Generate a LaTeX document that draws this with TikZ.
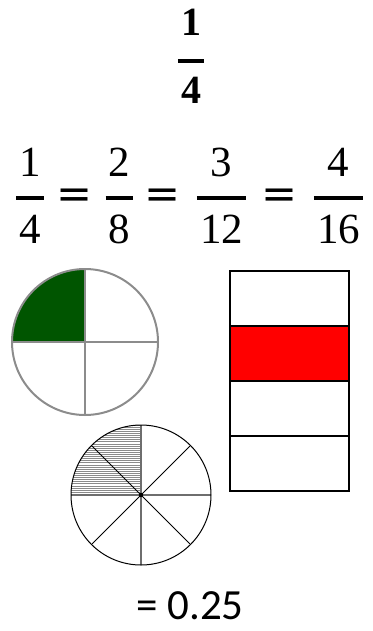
\documentclass[tikz,border=0pt]{standalone}
\usepackage{fontspec}
\newfontfamily\fracfont{Liberation Serif}
\newfontfamily\eqfont{DejaVu Sans}
\newfontfamily\decimalfont{Carlito}
\definecolor{pieline}{HTML}{8C8C8C}
\definecolor{piegreen}{HTML}{005500}
\definecolor{hatchgray}{HTML}{8A8A8A}
\definecolor{spokegray}{HTML}{6E6E6E}
\definecolor{barred}{HTML}{FF0000}
\tikzset{
  rowdigits/.style={inner sep=0pt, anchor=base, font=\fontsize{43}{46}\fracfont},
  titledigits/.style={inner sep=0pt, anchor=base, font=\fontsize{40}{44}\fracfont\bfseries},
  eqsign/.style={inner sep=0pt, font=\fontsize{43}{47}\eqfont},
  fracbar/.style={line width=4pt, shorten <=-3pt, shorten >=-3pt},
  decimaltext/.style={inner sep=0pt, anchor=base, font=\fontsize{43}{47}\decimalfont}
}

\begin{document}
\begin{tikzpicture}[x=1pt, y=-1pt]

  \useasboundingbox (0,0) rectangle (372,631);

  %% title fraction
  \coordinate (title-bar) at (191,61);
  \node[titledigits] (title-num) at (191,36) {1};
  \node[titledigits] (title-den) at (191,104) {4};
  \draw[fracbar] (title-den.west |- title-bar) -- (title-den.east |- title-bar);

  %% row of equal fractions
  \foreach \name/\x/\num/\den in {fracA/30/1/4, fracB/119.5/2/8, fracC/221.5/3/12, fracD/338.5/4/16} {
    \coordinate (\name-bar) at (\x,197.5);
    \node[rowdigits] (\name-num) at (\x,176) {\num};
    \node[rowdigits] (\name-den) at (\x,243) {\den};
    \draw[fracbar] (\name-den.west |- \name-bar) -- (\name-den.east |- \name-bar);
  }
  \foreach \name/\x in {eqA/75, eqB/163, eqC/280}
    \node[eqsign] (\name) at (\x,198.5) {=};

  %% ---- circle in quarters, top left one green ----
  \coordinate (quarterc) at (85,342);
  \fill[piegreen] (quarterc) -- ++(-73,0) arc[start angle=180, end angle=270, radius=73] -- cycle;
  \draw[pieline, line width=2pt] (quarterc) circle[radius=73];
  \draw[pieline, line width=2.5pt] (quarterc) ++(-73,0) -- ++(146,0);
  \draw[pieline, line width=2.5pt] (quarterc) ++(0,-73) -- ++(0,146);

  %% ---- circle in eighths, top left two hatched ----
  \coordinate (eighthc) at (141,495);
  \begin{scope}
    \clip (eighthc) -- ++(-70,0) arc[start angle=180, end angle=270, radius=70] -- cycle;
    \foreach \k in {0,...,34}
      \draw[hatchgray, line width=0.7pt] (71,{425+2.1*\k}) -- (141,{425+2.1*\k});
  \end{scope}
  \foreach \a in {45,135,225,315}
    \draw[black, line width=1pt] (eighthc) -- ++(\a:70);
  \draw[spokegray, line width=1.8pt] (eighthc) ++(-70,0) -- ++(140,0);
  \draw[spokegray, line width=1.8pt] (eighthc) ++(0,-70) -- ++(0,140);
  \draw[black, line width=1pt] (eighthc) circle[radius=70];
  \fill[black] (eighthc) circle[radius=2.2];

  %% ---- bar in four cells, second one red ----
  \fill[barred] (230,326) rectangle (349,381);
  \foreach \y in {326,381,436}
    \draw[black, line width=2.2pt] (230,\y) -- (349,\y);
  \draw[black, line width=2.2pt] (230,271) rectangle (349,491);

  %% decimal
  \node[decimaltext] (decimal) at (190,619) {= 0.25};

\end{tikzpicture}
\end{document}
